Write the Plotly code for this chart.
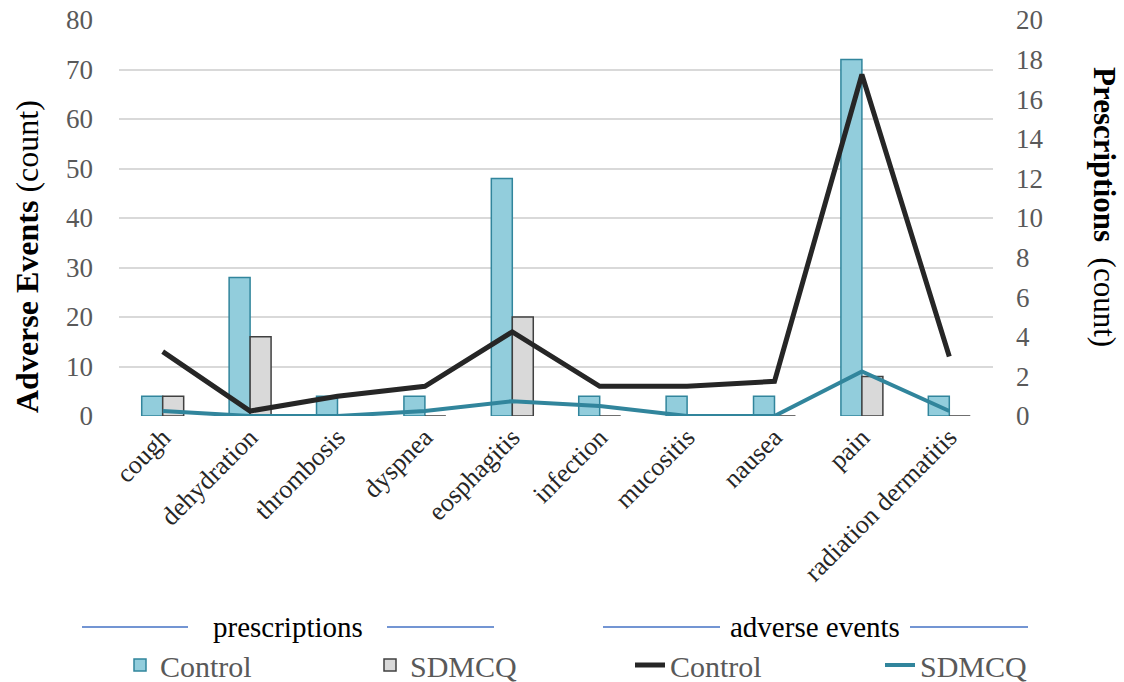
import plotly.graph_objects as go

categories = ["cough", "dehydration", "thrombosis", "dyspnea", "eosphagitis",
              "infection", "mucositis", "nausea", "pain", "radiation dermatitis"]
bar_control = [4, 28, 4, 4, 48, 4, 4, 4, 72, 4]
bar_sdmcq = [4, 16, 0, 0, 20, 0, 0, 0, 8, 0]
line_control = [3.25, 0.25, 1.0, 1.5, 4.25, 1.5, 1.5, 1.75, 17.25, 3.0]
line_sdmcq = [0.25, 0.0, 0.0, 0.25, 0.75, 0.5, 0.0, 0.0, 2.25, 0.25]

FONT = "Liberation Serif"
GRAY = "#595959"
W, H = 1124, 682

fig = go.Figure()
fig.add_trace(go.Bar(x=categories, y=bar_control, name="Control",
                     marker=dict(color="#92CDDC", line=dict(color="#31859C", width=1.5)),
                     yaxis="y", legend="legend"))
fig.add_trace(go.Bar(x=categories, y=bar_sdmcq, name="SDMCQ",
                     marker=dict(color="#D9D9D9", line=dict(color="#404040", width=1.5)),
                     yaxis="y", legend="legend"))
fig.add_trace(go.Scatter(x=categories, y=line_control, name="Control", mode="lines",
                         line=dict(color="#262626", width=5), yaxis="y2", legend="legend2"))
fig.add_trace(go.Scatter(x=categories, y=line_sdmcq, name="SDMCQ", mode="lines",
                         line=dict(color="#31859C", width=4), yaxis="y2", legend="legend2"))

legend_common = dict(orientation="h", xanchor="left", yanchor="middle",
                     xref="container", yref="container", y=(H - 665) / H,
                     entrywidth=205, entrywidthmode="pixels",
                     font=dict(family=FONT, size=30, color=GRAY), traceorder="normal",
                     bgcolor="rgba(0,0,0,0)")

fig.update_layout(
    width=W, height=H,
    margin=dict(l=119, r=131, t=20, b=266),
    paper_bgcolor="white", plot_bgcolor="white",
    font=dict(family=FONT, size=27, color=GRAY),
    barmode="group", bargap=0.52, bargroupgap=0,
    xaxis=dict(tickangle=-45, tickfont=dict(family=FONT, size=26, color="#262626"),
               showgrid=False, showline=False, ticks="", automargin=False),
    yaxis=dict(range=[0, 80], dtick=10, showgrid=True, gridcolor="#D9D9D9", gridwidth=1.5,
               zeroline=False, showline=False, tickfont=dict(family=FONT, size=27, color=GRAY),
               ticklabelstandoff=25, automargin=False),
    yaxis2=dict(range=[0, 20], dtick=2, overlaying="y", side="right", showgrid=False,
                zeroline=False, showline=False, tickfont=dict(family=FONT, size=27, color=GRAY),
                ticklabelstandoff=22, automargin=False),
    showlegend=True,
    legend=dict(x=120 / W, **legend_common),
    legend2=dict(x=630 / W, **legend_common),
)

def px2x(px):
    return (px - 119) / 874.0

def py2y(py):
    return (416 - py) / 396.0

fig.add_annotation(text="<b>Adverse Events</b> (count)", xref="paper", yref="paper",
                   x=px2x(27), y=py2y(257), xanchor="center", yanchor="middle",
                   textangle=-90, showarrow=False,
                   font=dict(family=FONT, size=32, color="black"))
fig.add_annotation(text="<b>Prescriptions</b>  (count)", xref="paper", yref="paper",
                   x=px2x(1105), y=py2y(207), xanchor="center", yanchor="middle",
                   textangle=90, showarrow=False,
                   font=dict(family=FONT, size=31, color="black"))

# legend group headers
for label, cx, segs in [("prescriptions", 288, [(82, 188), (387, 494)]),
                        ("adverse events", 815, [(603, 720), (910, 1028)])]:
    fig.add_annotation(text=label, xref="paper", yref="paper", x=px2x(cx), y=py2y(627),
                       xanchor="center", yanchor="middle", showarrow=False,
                       font=dict(family=FONT, size=29, color="black"))
    for a, b in segs:
        fig.add_shape(type="line", xref="paper", yref="paper",
                      x0=px2x(a), x1=px2x(b), y0=py2y(627), y1=py2y(627),
                      line=dict(color="#4472C4", width=1.5))

fig.write_html("out.html", config={"displayModeBar": False},
               post_script="document.body.style.margin='0';")
